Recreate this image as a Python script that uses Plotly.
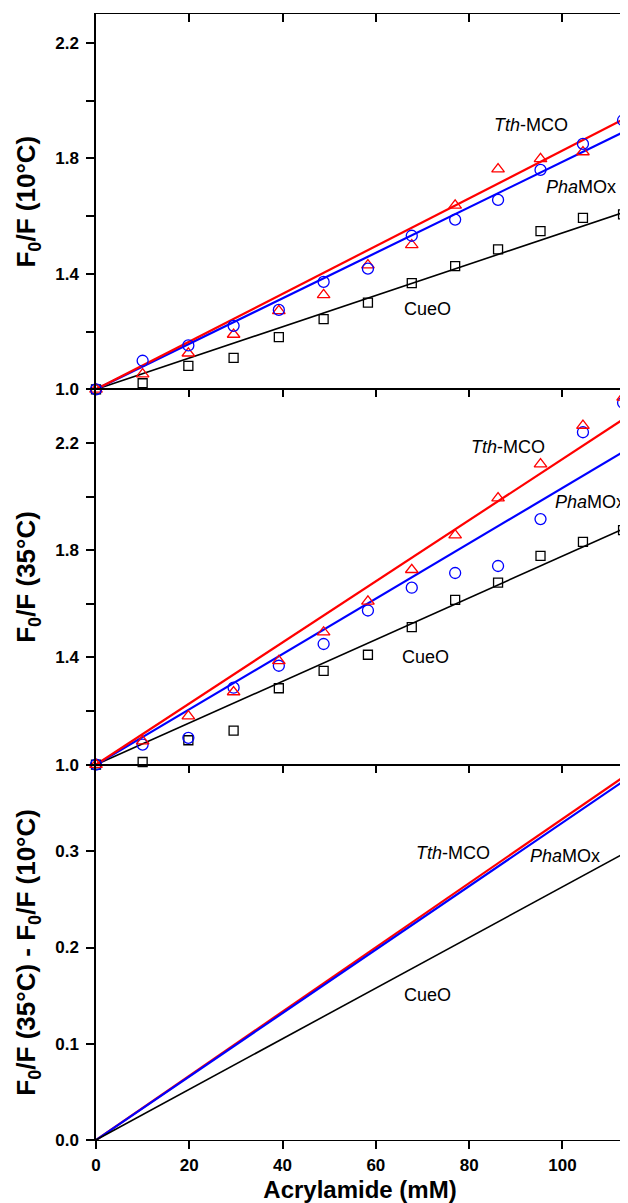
import plotly.graph_objects as go

# ---------------- data ----------------
acrylamide = [0, 10.0, 19.8, 29.5, 39.2, 48.8, 58.3, 67.7, 77.0, 86.2, 95.3, 104.4, 113.0]

# 10 °C
cueo_10 = [1.0, 1.021, 1.081, 1.109, 1.181, 1.243, 1.300, 1.368, 1.427, 1.485, 1.548, 1.594, 1.606]
pha_10 = [1.0, 1.099, 1.152, 1.220, 1.275, 1.372, 1.418, 1.532, 1.588, 1.656, 1.760, 1.850, 1.932]
tth_10 = [1.0, 1.053, 1.125, 1.190, 1.272, 1.327, 1.430, 1.500, 1.637, 1.763, 1.798, 1.822]

# 35 °C
cueo_35 = [1.0, 1.010, 1.091, 1.127, 1.285, 1.350, 1.410, 1.513, 1.615, 1.679, 1.779, 1.831, 1.875]
pha_35 = [1.0, 1.075, 1.100, 1.287, 1.369, 1.450, 1.575, 1.660, 1.715, 1.741, 1.916, 2.240, 2.350]
tth_35 = [1.0, 1.088, 1.181, 1.271, 1.387, 1.494, 1.609, 1.727, 1.856, 1.994, 2.121, 2.265, 2.370]

# Stern-Volmer slopes of the fitted lines (per mM)
ksv_10 = {"tth": 0.00827, "pha": 0.00788, "cueo": 0.00542}
ksv_35 = {"tth": 0.01140, "pha": 0.01032, "cueo": 0.00778}
ksv_diff = {"tth": 0.003336, "pha": 0.003297, "cueo": 0.00263}

x_fit = [0, 113.3]

FONT = "Liberation Sans"
RED, BLUE, BLACK = "#ff0000", "#0000ff", "#000000"

fig = go.Figure()


def fit_line(k, base, xa, ya, color, width):
    fig.add_trace(go.Scatter(x=x_fit, y=[base + k * v for v in x_fit], mode="lines",
                             line=dict(color=color, width=width), xaxis=xa, yaxis=ya,
                             showlegend=False, hoverinfo="skip", cliponaxis=False))


def pts(xs, ys, symbol, size, color, xa, ya):
    fig.add_trace(go.Scatter(x=xs[:len(ys)], y=ys, mode="markers",
                             marker=dict(symbol=symbol, size=size, color=color,
                                         line=dict(color=color, width=1.3)),
                             xaxis=xa, yaxis=ya, showlegend=False, cliponaxis=False))


# top panel (10 C)
fit_line(ksv_10["cueo"], 1.0, "x", "y", BLACK, 1.6)
fit_line(ksv_10["pha"], 1.0, "x", "y", BLUE, 2.2)
fit_line(ksv_10["tth"], 1.0, "x", "y", RED, 2.2)
pts(acrylamide, cueo_10, "square-open", 9, BLACK, "x", "y")
pts(acrylamide, tth_10, "triangle-up-open", 11, RED, "x", "y")
pts(acrylamide, pha_10, "circle-open", 11, BLUE, "x", "y")

# middle panel (35 C)
fit_line(ksv_35["cueo"], 1.0, "x2", "y2", BLACK, 1.6)
fit_line(ksv_35["pha"], 1.0, "x2", "y2", BLUE, 2.2)
fit_line(ksv_35["tth"], 1.0, "x2", "y2", RED, 2.2)
pts(acrylamide, cueo_35, "square-open", 9, BLACK, "x2", "y2")
pts(acrylamide, pha_35, "circle-open", 11, BLUE, "x2", "y2")
pts(acrylamide, tth_35, "triangle-up-open", 11, RED, "x2", "y2")

# bottom panel (difference)
fit_line(ksv_diff["cueo"], 0.0, "x4", "y3", BLACK, 1.6)
fit_line(ksv_diff["tth"], 0.0, "x3", "y3", RED, 2.2)
fit_line(ksv_diff["pha"], 0.0, "x3", "y3", BLUE, 2.2)

tickfont = dict(family=FONT, size=17, color="black", weight="bold")
titlefont = dict(family=FONT, size=26, color="black", weight="bold")
XR = [0, 113.2]

xcommon = dict(range=XR, dtick=20, tick0=0, showline=True, linecolor="black", linewidth=1.3,
               mirror=True, ticks="inside", ticklen=8, tickwidth=1.5, tickcolor="black",
               showticklabels=False, showgrid=False, zeroline=False, side="top",
               automargin=False)


def ycommon(rng, dtick, t0, minor, domain, title):
    d = dict(range=rng, dtick=dtick, tick0=t0, domain=domain, showline=True, linecolor="black",
             linewidth=1.5, mirror=True, ticks="outside", ticklen=8, tickwidth=1.5,
             tickcolor="black", tickfont=tickfont, tickformat=".1f", showgrid=False,
             zeroline=False, ticklabelstandoff=4, automargin=False,
             title=dict(text=title, font=titlefont, standoff=12))
    if minor:
        d["minor"] = dict(dtick=minor, tick0=t0, ticks="outside", ticklen=8, tickwidth=1.5,
                          tickcolor="black", showgrid=False)
    return d


# the page body adds an 8px offset, so the figure is sized 8px smaller on each axis
fig.update_layout(
    width=620, height=1195,
    margin=dict(l=88, r=4, t=6, b=63),
    paper_bgcolor="white", plot_bgcolor="white",
    xaxis=dict(xcommon, anchor="y"),
    xaxis2=dict(xcommon, anchor="y2"),
    xaxis3=dict(xcommon, anchor="y3"),
    xaxis4=dict(range=XR, dtick=20, tick0=0, anchor="y3", overlaying="x3", side="bottom",
                showline=False, ticks="outside", ticklen=8, tickwidth=1.5, tickcolor="black",
                tickfont=tickfont, showgrid=False, zeroline=False, ticklabelstandoff=2,
                automargin=False,
                title=dict(text="Acrylamide (mM)",
                           font=dict(family=FONT, size=24, color="black", weight="bold"),
                           standoff=12)),
    yaxis=ycommon([1.0, 2.3], 0.4, 1.0, 0.2, [2 / 3, 1], "F<sub>0</sub>/F (10°C)"),
    yaxis2=ycommon([1.0, 2.4], 0.4, 1.0, 0.2, [1 / 3, 2 / 3], "F<sub>0</sub>/F (35°C)"),
    yaxis3=ycommon([0.0, 0.39], 0.1, 0.0, None, [0, 1 / 3],
                   "F<sub>0</sub>/F (35°C) - F<sub>0</sub>/F (10°C)"),
)

labfont = dict(family=FONT, size=18, color="black")
labels = [
    ("x", "y", 93.2, 1.916, "<i>Tth</i>-MCO"),
    ("x", "y", 104.0, 1.70, "<i>Pha</i>MOx"),
    ("x", "y", 71.1, 1.277, "CueO"),
    ("x2", "y2", 88.3, 2.185, "<i>Tth</i>-MCO"),
    ("x2", "y2", 105.9, 1.981, "<i>Pha</i>MOx"),
    ("x2", "y2", 70.6, 1.402, "CueO"),
    ("x3", "y3", 76.5, 0.298, "<i>Tth</i>-MCO"),
    ("x3", "y3", 100.6, 0.295, "<i>Pha</i>MOx"),
    ("x3", "y3", 71.1, 0.151, "CueO"),
]
for xa, ya, xv, yv, txt in labels:
    fig.add_annotation(x=xv, y=yv, xref=xa, yref=ya, text=txt, showarrow=False, font=labfont)

fig.write_html("out.html")
